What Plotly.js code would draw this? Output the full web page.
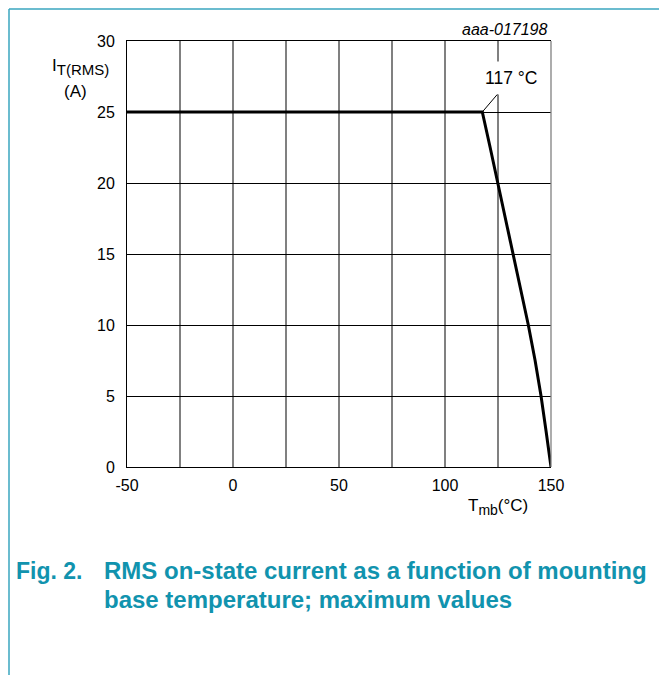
<!DOCTYPE html>
<html><head><meta charset="utf-8">
<script src="https://cdn.plot.ly/plotly-3.0.1.min.js"></script>
<style>html,body{margin:0;padding:0;background:#fff;}#chart{width:659px;height:675px;}</style>
</head><body><div id="chart"></div>
<script>
// Data
const tempC = [-50, 117.6, 121.3, 124.9, 128.6, 132.2, 135.8, 139.3, 142.5, 145.3, 147.7, 150];
const currentA = [25, 25, 22.5, 20, 17.5, 15, 12.5, 10, 7.5, 5, 2.5, 0];
const xTickVals = [-50, 0, 50, 100, 150];
const xTickText = ['-50', '0', '50', '100', '150'];
const xMinorGrid = [-25, 25, 75, 125];
const yTickVals = [0, 5, 10, 15, 20, 25, 30];
const yTickText = ['0', '5', '10', '15', '20', '25', '30'];
const kneeTemp = 117.6;
const kneeCurrent = 25;
const kneeLabel = '117 °C';

const FONT = 'Liberation Sans, Arial, Helvetica, sans-serif';
const TEAL = '#1193ae';
const GRID_GRAY = '#808080';

const trace = {
  x: tempC, y: currentA, type: 'scatter', mode: 'lines',
  line: {color: '#000', width: 3}, hoverinfo: 'skip', showlegend: false
};

const layout = {
  width: 659, height: 675,
  margin: {l: 127, r: 108, t: 41, b: 208, pad: 0},
  paper_bgcolor: '#fff', plot_bgcolor: '#fff',
  font: {family: FONT, color: '#000', size: 16},
  showlegend: false,
  xaxis: {
    range: [-50, 150], tickmode: 'array', tickvals: xTickVals, ticktext: xTickText,
    showgrid: true, gridcolor: GRID_GRAY, gridwidth: 1.3,
    minor: {tickmode: 'array', tickvals: xMinorGrid, showgrid: true, gridcolor: GRID_GRAY, gridwidth: 1.3, ticks: ''},
    showline: true, linecolor: '#000', linewidth: 1, mirror: true,
    zeroline: false, ticks: '', ticklabelstandoff: 4,
    tickfont: {family: FONT, size: 16, color: '#000'}, fixedrange: true
  },
  yaxis: {
    range: [0, 30], tickmode: 'array', tickvals: yTickVals, ticktext: yTickText,
    showgrid: true, gridcolor: '#000', gridwidth: 1,
    showline: true, linecolor: '#000', linewidth: 1,
    zeroline: false, ticks: '', ticklabelstandoff: 8,
    tickfont: {family: FONT, size: 16, color: '#000'}, fixedrange: true
  },
  shapes: [
    {type: 'line', xref: 'paper', yref: 'paper', x0: 1, x1: 1, y0: 0, y1: 1,
     line: {color: GRID_GRAY, width: 1.3}},
    {type: 'line', xref: 'paper', yref: 'paper', x0: -0.2783, x1: 1.26, y0: 1.0751, y1: 1.0751,
     line: {color: '#3aa6bf', width: 1.5}},
    {type: 'line', xref: 'paper', yref: 'paper', x0: -0.2783, x1: -0.2783, y0: 1.0751, y1: -0.49,
     line: {color: '#3aa6bf', width: 1.5}}
  ],
  annotations: [
    {x: kneeTemp, y: kneeCurrent, xref: 'x', yref: 'y', text: kneeLabel,
     showarrow: true, arrowhead: 0, arrowwidth: 1, arrowcolor: '#000',
     ax: 29, ay: -34, bgcolor: '#fff', borderpad: 6,
     font: {family: FONT, size: 17.5, color: '#000'}},
    {xref: 'paper', yref: 'paper', x: -0.1108, y: 0.939, xanchor: 'center', yanchor: 'middle',
     text: 'I<sub><span style="font-size:15px">T(RMS)</span></sub>', showarrow: false,
     font: {family: FONT, size: 17, color: '#000'}},
    {xref: 'paper', yref: 'paper', x: -0.1215, y: 0.8815, xanchor: 'center', yanchor: 'middle',
     text: '(A)', showarrow: false,
     font: {family: FONT, size: 17, color: '#000'}},
    {xref: 'paper', yref: 'paper', x: 0.875, y: -0.0939, xanchor: 'center', yanchor: 'middle',
     text: 'T<sub><span style="font-size:14px">mb</span></sub>(°C)', showarrow: false,
     font: {family: FONT, size: 17, color: '#000'}},
    {xref: 'paper', yref: 'paper', x: 0.9976, y: 1.026, xanchor: 'right', yanchor: 'middle',
     text: '<i>aaa-017198</i>', showarrow: false,
     font: {family: FONT, size: 16, color: '#000'}},
    {xref: 'paper', yref: 'paper', x: -0.2665, y: -0.244, xanchor: 'left', yanchor: 'middle',
     text: '<b>Fig. 2.</b>', showarrow: false,
     font: {family: FONT, size: 23, color: TEAL}},
    {xref: 'paper', yref: 'paper', x: -0.059, y: -0.244, xanchor: 'left', yanchor: 'middle',
     text: '<b>RMS on-state current as a function of mounting</b>', showarrow: false,
     font: {family: FONT, size: 24, color: TEAL}},
    {xref: 'paper', yref: 'paper', x: -0.059, y: -0.3122, xanchor: 'left', yanchor: 'middle',
     text: '<b>base temperature; maximum values</b>', showarrow: false,
     font: {family: FONT, size: 24, color: TEAL}}
  ]
};

Plotly.newPlot('chart', [trace], layout, {displayModeBar: false, staticPlot: true});
</script>
</body></html>
